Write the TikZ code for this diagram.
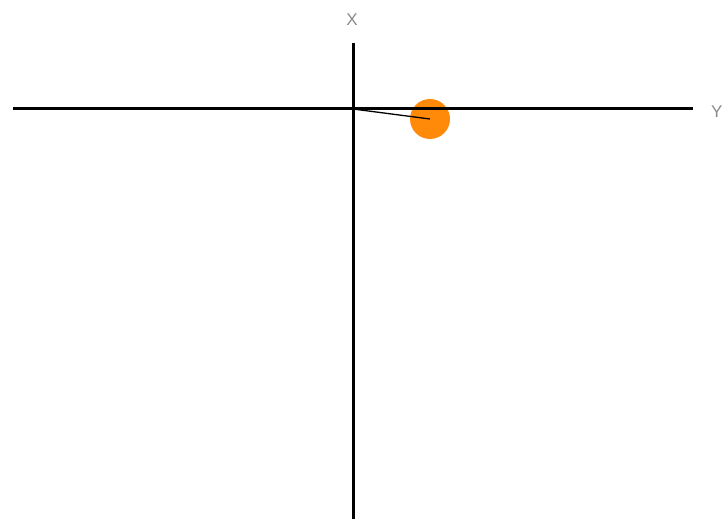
\documentclass[tikz,border=0pt]{standalone}
\usepackage{fontspec}
\setmainfont{Liberation Sans}
\definecolor{ballorange}{HTML}{FF8A0A}
\definecolor{labelgray}{HTML}{8A8A8A}
\begin{document}
\begin{tikzpicture}[x=1pt,y=1pt,
  axis/.style={line width=3pt,black},
  axislabel/.style={text=labelgray,font=\fontsize{17}{17}\selectfont,inner sep=0pt}]
\useasboundingbox (0,0) rectangle (724,519);
\coordinate (o) at (353,410);
\coordinate (xl) at (13,410);
\coordinate (xr) at (693,410);
\coordinate (vt) at (353,476);
\coordinate (vb) at (353,0);
\node[circle,fill=ballorange,minimum size=40pt,inner sep=0pt] (ball) at (430,400) {};
\draw[axis] (xl) -- (xr);
\draw[axis] (vt) -- (vb);
\node[axislabel] (X) at (352,499) {X};
\node[axislabel,anchor=west] (Y) at (711,407) {Y};
\draw[line width=1.3pt,black] (o) -- (ball.center);
\end{tikzpicture}
\end{document}
